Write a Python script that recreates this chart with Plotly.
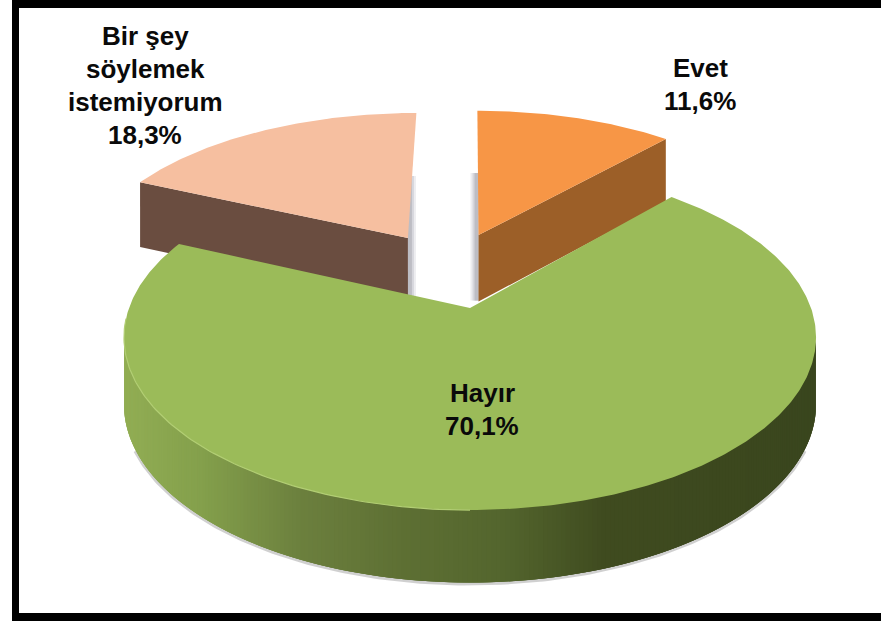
import numpy as np
import plotly.graph_objects as go

# Data
categories = ["Evet", "Hayır", "Bir şey<br>söylemek<br>istemiyorum"]
values = [11.6, 70.1, 18.3]
value_labels = ["11,6%", "70,1%", "18,3%"]

# Style / projection constants
top_colors = ["#F79646", "#9BBB59", "#F6BFA0"]
side_colors = ["#9C5F28", None, "#6A4D40"]
explode_xy = [(0.027, 0.47), (0.0, 0.0), (-0.196, 0.45)]
label_pos = [(700, 68), (482, 393), (145, 36)]
LINE = 33
CX, CY, A, B, K, D = 470.0, 308.0, 341.0, 167.7, 0.17, 66.0
W, H = 881, 622
grad_x = [124, 200, 300, 400, 500, 600, 816]
grad_rgb = [(146, 174, 84), (132, 160, 76), (108, 128, 62), (94, 112, 52),
            (84, 102, 46), (64, 76, 32), (58, 70, 30)]


def project(X, Y):
    w = 1 + K * Y
    return CX + A * X / w, CY - B * Y / w, D * w ** -0.5


def side_color(x):
    c = [np.interp(x, grad_x, [g[i] for g in grad_rgb]) for i in range(3)]
    return "rgb(%d,%d,%d)" % tuple(int(v) for v in c)


def poly(x, y, color, lw=0.0):
    return go.Scatter(x=list(x), y=list(y), mode="lines", fill="toself",
                      fillcolor=color, line=dict(color=color, width=lw),
                      hoverinfo="skip", showlegend=False)


def stroke(x, y, color, lw):
    return go.Scatter(x=list(x), y=list(y), mode="lines",
                      line=dict(color=color, width=lw),
                      hoverinfo="skip", showlegend=False)


angles = np.cumsum([0] + values) / 100 * 2 * np.pi
slices = []
for i in range(len(values)):
    t = np.linspace(angles[i], angles[i + 1], max(int(values[i] * 6), 30))
    ox, oy = explode_xy[i]
    ax, ay, ad = project(ox, oy)
    x, y, d = project(ox + np.sin(t), oy + np.cos(t))
    slices.append(dict(t=t, ax=ax, ay=ay, ad=ad, x=x, y=y, d=d))

traces = []
# Soft shadows beside the two raised slices
for i, sign in ((0, -1), (2, 1)):
    s = slices[i]
    for shift, col in ((8, "#EDEDF0"), (6, "#D6D6DC"), (4, "#BDBDC4")):
        x0, x1 = s["ax"], s["ax"] + sign * shift
        traces.append(poly([x0, x1, x1, x0],
                           [s["ay"] - 62, s["ay"] - 62, s["ay"] + s["ad"] + 2, s["ay"] + s["ad"] + 2], col))

# Back slices: flat cut wall then top
for i, end in ((0, -1), (2, 0)):
    s = slices[i]
    wx = [s["ax"], s["x"][end], s["x"][end], s["ax"]]
    wy = [s["ay"], s["y"][end], s["y"][end] + s["d"][end] + 3, s["ay"] + s["ad"] + 3]
    traces.append(poly(wx, wy, side_colors[i]))
    traces.append(poly([s["ax"], *s["x"]], [s["ay"], *s["y"]], top_colors[i]))

# Large slice: soft ground shadow, rim as colour strips, then top surface
s = slices[1]
tt = np.linspace(np.pi * 0.56, np.pi * 1.44, 240)
xx, yy, dd = project(np.sin(tt), np.cos(tt))
order = np.argsort(xx)
xx, yy, dd = xx[order], yy[order], dd[order]
inner = (xx > 135) & (xx < 805)
traces.append(stroke(xx[inner], (yy + dd + 1)[inner], "rgba(120,120,120,0.35)", 4))
for j in range(len(xx) - 3):
    c = side_color(xx[j])
    k = j + 3
    traces.append(poly([xx[j], xx[k], xx[k], xx[j]],
                       [yy[j] - 2, yy[k] - 2, yy[k] + dd[k], yy[j] + dd[j]], c))
traces.append(poly([s["ax"], *s["x"]], [s["ay"], *s["y"]], top_colors[1]))
# Light bevel on the front-left edge of the top surface
te = np.linspace(np.pi * 1.0, np.pi * 1.48, 100)
ex, ey, _ = project(np.sin(te), np.cos(te))
traces.append(stroke(ex, ey, "#B2CE74", 1.2))

fig = go.Figure(traces)

for name, val, (lx, ly) in zip(categories, value_labels, label_pos):
    for n, line in enumerate(name.split("<br>") + [val]):
        fig.add_annotation(x=lx, y=ly + n * LINE, text=f"<b>{line}</b>", showarrow=False,
                           xanchor="center", yanchor="middle", align="center",
                           font=dict(family="Liberation Sans", size=26, color="#0A0A0A"))

# Black frame
fig.add_shape(type="rect", x0=12, x1=19, y0=0, y1=621, fillcolor="black", line_width=0, layer="above")
fig.add_shape(type="rect", x0=12, x1=881, y0=0, y1=8, fillcolor="black", line_width=0, layer="above")
fig.add_shape(type="rect", x0=12, x1=881, y0=613, y1=621, fillcolor="black", line_width=0, layer="above")

fig.update_layout(width=W, height=H, margin=dict(l=0, r=0, t=0, b=0),
                  paper_bgcolor="white", plot_bgcolor="white", showlegend=False,
                  xaxis=dict(range=[0, W], visible=False, fixedrange=True),
                  yaxis=dict(range=[H, 0], visible=False, fixedrange=True))
fig.write_html("out.html", config=dict(displayModeBar=False),
               post_script="document.body.style.margin='0';document.documentElement.style.overflow='hidden';")
